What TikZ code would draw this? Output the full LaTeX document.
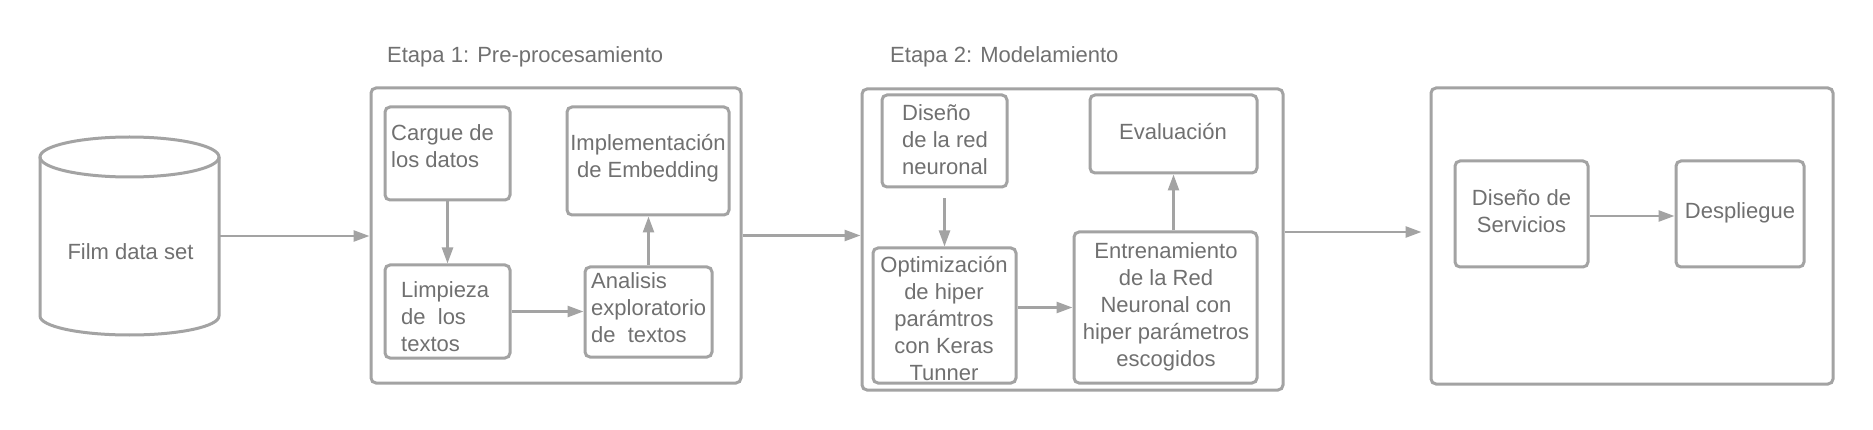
\documentclass[tikz,border=0pt]{standalone}
\usepackage{fontspec}
\setmainfont{Liberation Sans}
\usetikzlibrary{arrows.meta}
\definecolor{linec}{HTML}{A3A3A3}
\definecolor{textc}{HTML}{707070}
\begin{document}
\begin{tikzpicture}[x=1pt,y=-1pt,
  box/.style={draw=linec, line width=3pt, rounded corners=5pt, inner sep=0pt},
  txt/.style={text=textc, inner sep=0pt, font=\fontsize{22}{27}\selectfont},
  conn/.style={draw=linec, line width=2.5pt, -{Triangle[length=16pt,width=11pt]}}]
\useasboundingbox (0,0) rectangle (1873,430);
\fill[white] (0,0) rectangle (1873,430);

% cylinder
\node[inner sep=0pt, minimum width=179pt, minimum height=198pt] (db) at (129.5,236) {};
\draw[linec, line width=3pt] (40,157) -- (40,316) arc[start angle=180, end angle=360, x radius=89.5pt, y radius=19pt] -- (219,157);
\draw[linec, line width=3pt] (129.5,157) ellipse[x radius=89.5pt, y radius=20pt];
\node[txt, anchor=base] (tdb) at (130.5,260) {Film data set};

% stage 1
\node[txt, anchor=base west] (l1) at (387,63) {Etapa 1: Pre-procesamiento};
\node[box, minimum width=370pt, minimum height=295pt] (s1) at (556,235.5) {};
\node[box, minimum width=125pt, minimum height=93pt] (c1) at (447.5,153.5) {};
\node[box, minimum width=162pt, minimum height=108pt] (c4) at (648,161) {};
\node[box, minimum width=125pt, minimum height=93pt] (c2) at (447.5,311.5) {};
\node[box, minimum width=127pt, minimum height=90pt] (c3) at (648.5,312) {};
\node[txt, anchor=west, align=left] (tc1) at (391,146.5) {Cargue de\\los datos};
\node[txt, align=center] (tc4) at (648,158.5) {Implementación\\de Embedding};
\node[txt, anchor=west, align=left] (tc2) at (401,316.7) {Limpieza\\de~~los\\textos};
\node[txt, anchor=west, align=left] (tc3) at (591,307.7) {Analisis\\exploratorio\\de~~textos};

% stage 2
\node[txt, anchor=base west] (l2) at (890,63) {Etapa 2: Modelamiento};
\node[box, minimum width=421pt, minimum height=301pt] (s2) at (1072.5,239.5) {};
\node[box, minimum width=125pt, minimum height=92pt] (d1) at (944.5,141) {};
\node[box, minimum width=167pt, minimum height=78pt] (d4) at (1173.5,134) {};
\node[box, minimum width=143pt, minimum height=135pt] (d2) at (944.5,315.5) {};
\node[box, minimum width=183pt, minimum height=151pt] (d3) at (1165.5,307.5) {};
\node[txt, anchor=west, align=left] (td1) at (902,140) {Diseño\\de la red\\neuronal};
\node[txt] (td4) at (1173,132) {Evaluación};
\node[txt, align=center] (td2) at (944,318.5) {Optimización\\de hiper\\parámtros\\con Keras\\Tunner};
\node[txt, align=center] (td3) at (1166,306.5) {Entrenamiento\\de la Red\\Neuronal con\\hiper parámetros\\escogidos};

% stage 3
\node[box, minimum width=402pt, minimum height=296pt] (s3) at (1632,236) {};
\node[box, minimum width=133pt, minimum height=106pt] (e1) at (1521.5,214) {};
\node[box, minimum width=128pt, minimum height=106pt] (e2) at (1740,214) {};
\node[txt, align=center] (te1) at (1521.5,211.5) {Diseño de\\Servicios};
\node[txt] (te2) at (1740,213) {Despliegue};

% connectors
\draw[conn] (db.east) -- (db.east -| s1.west);
\draw[conn] (s1.east) -- (s1.east -| s2.west);
\draw[conn, shorten >=8pt] ([yshift=7.5pt]s2.east) -- ([yshift=7.5pt]s2.east -| s3.west);
\draw[conn] (c1.south) -- (c2.north);
\draw[conn] (c2.east) -- (c2.east -| c3.west);
\draw[conn] (c3.north) -- (c3.north |- c4.south);
\draw[conn, shorten <=10pt] (d1.south) -- (d1.south |- d2.north);
\draw[conn] (d2.east |- d3.west) -- (d3.west);
\draw[conn] (d4.south |- d3.north) -- (d4.south);
\draw[conn] ([yshift=-2pt]e1.east) -- ([yshift=-2pt]e1.east -| e2.west);
\end{tikzpicture}
\end{document}
